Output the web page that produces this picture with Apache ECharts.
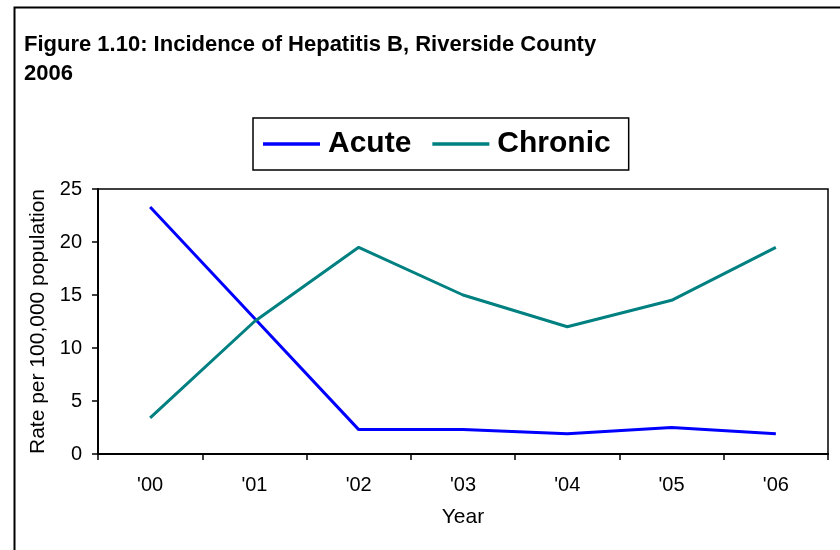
<!DOCTYPE html>
<html>
<head>
<meta charset="utf-8">
<script src="https://cdn.jsdelivr.net/npm/echarts@6/dist/echarts.min.js"></script>
<style>html,body{margin:0;padding:0;background:#fff}#c{width:840px;height:550px}</style>
</head>
<body>
<div id="c"></div>
<script>
const categories = ["'00", "'01", "'02", "'03", "'04", "'05", "'06"];
const acute = [23.3, 12.8, 2.3, 2.3, 1.9, 2.5, 1.9];
const chronic = [3.4, 12.5, 19.5, 15.0, 12.0, 14.5, 19.5];
const yTicks = [0, 5, 10, 15, 20, 25];

const FONT = "'Liberation Sans', Arial, sans-serif";
const chart = echarts.init(document.getElementById('c'), null, {renderer: 'canvas'});
chart.setOption({
  backgroundColor: '#fff',
  animation: false,
  graphic: [{
    type: 'rect', left: 12, top: 5, silent: true,
    shape: {width: 900, height: 600},
    style: {fill: 'none', stroke: '#000', lineWidth: 2}
  }],
  title: {
    text: 'Figure 1.10: Incidence of Hepatitis B, Riverside County\n2006',
    left: 19, top: 25,
    textStyle: {fontFamily: FONT, fontSize: 22, fontWeight: 'bold', color: '#000', lineHeight: 29}
  },
  legend: {
    data: ['Acute', 'Chronic'],
    left: 253, top: 118,
    padding: [11, 18, 11, 10],
    borderColor: '#000', borderWidth: 1.5,
    icon: 'rect', itemWidth: 57, itemHeight: 3.5, itemGap: 21,
    textStyle: {fontFamily: FONT, fontSize: 30, fontWeight: 'bold', color: '#000', padding: [0, 0, 0, 3]}
  },
  grid: {left: 98, top: 189, right: 12, bottom: 96, show: true, borderColor: '#000', borderWidth: 1.5, backgroundColor: 'transparent'},
  xAxis: {
    type: 'category', data: categories, boundaryGap: true,
    name: 'Year', nameLocation: 'middle', nameGap: 53,
    nameTextStyle: {fontFamily: FONT, fontSize: 21, color: '#000'},
    axisLine: {lineStyle: {color: '#000', width: 2}},
    axisTick: {show: true, length: 6, lineStyle: {color: '#000', width: 1.5}},
    axisLabel: {fontFamily: FONT, fontSize: 20, color: '#000', margin: 21},
    splitLine: {show: false}
  },
  yAxis: {
    type: 'value', min: yTicks[0], max: yTicks[yTicks.length - 1], interval: 5,
    name: 'Rate per 100,000 population', nameLocation: 'middle', nameGap: 49,
    nameTextStyle: {fontFamily: FONT, fontSize: 21, color: '#000'},
    axisLine: {show: true, lineStyle: {color: '#000', width: 2}},
    axisTick: {show: true, length: 6, lineStyle: {color: '#000', width: 1.5}},
    axisLabel: {fontFamily: FONT, fontSize: 20, color: '#000', margin: 16},
    splitLine: {show: false}
  },
  series: [
    {name: 'Acute', type: 'line', data: acute, showSymbol: false, symbol: 'none',
     lineStyle: {color: '#0000FF', width: 3}, itemStyle: {color: '#0000FF'}},
    {name: 'Chronic', type: 'line', data: chronic, showSymbol: false, symbol: 'none',
     lineStyle: {color: '#008080', width: 3}, itemStyle: {color: '#008080'}}
  ]
});
</script>
</body>
</html>
